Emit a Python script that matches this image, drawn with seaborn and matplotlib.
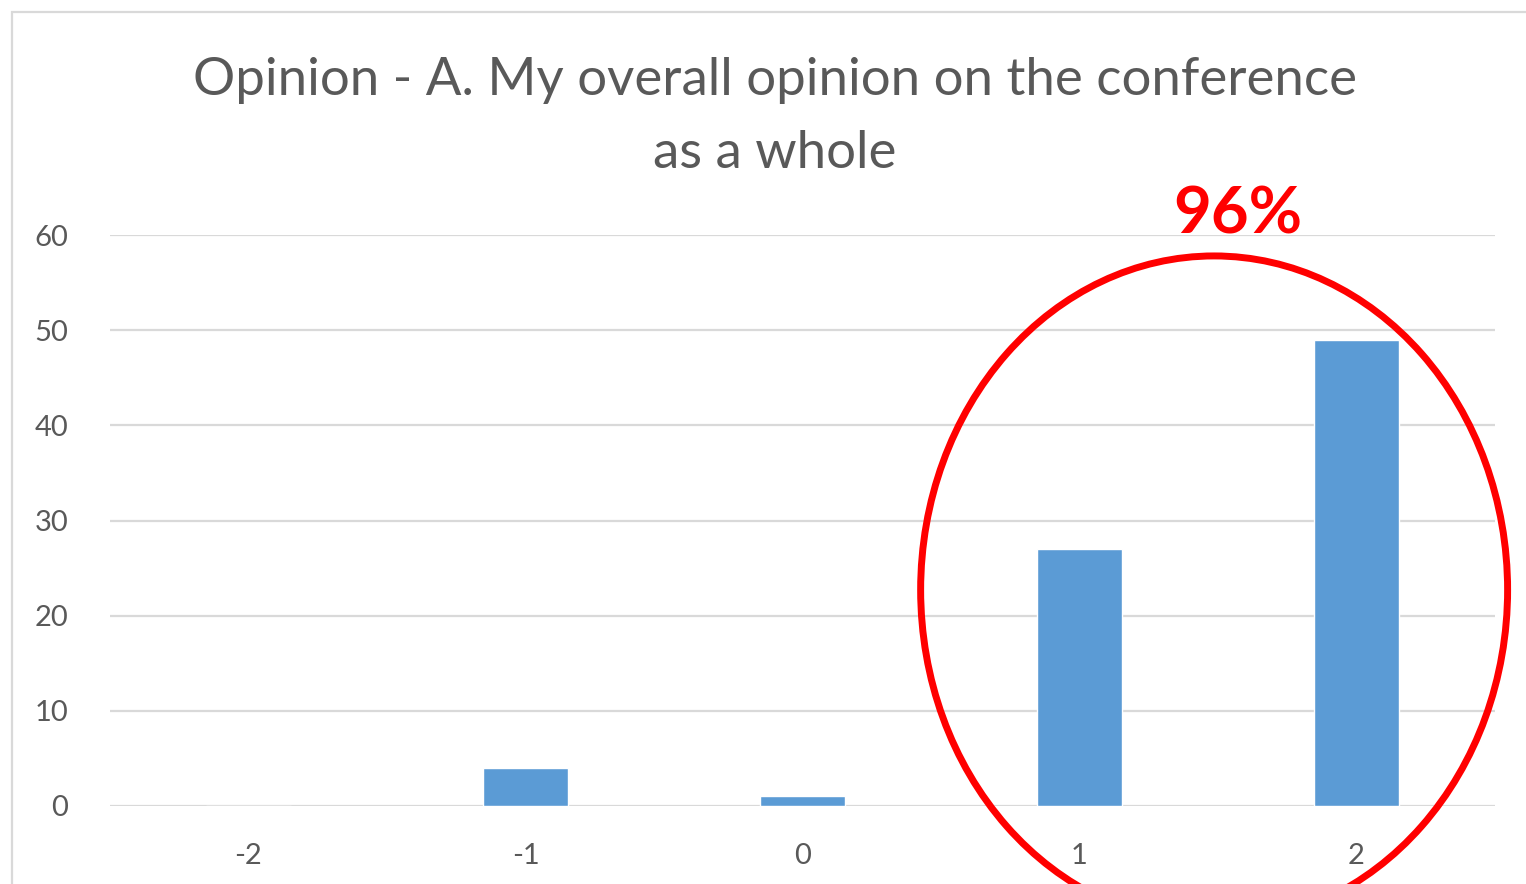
import matplotlib.pyplot as plt
import matplotlib.patches as mpatches
import seaborn as sns
import pandas as pd

# Survey answers: rating scale and number of respondents
ratings = ["-2", "-1", "0", "1", "2"]
counts = [0, 4, 1, 27, 49]
title_lines = ["Opinion - A. My overall opinion on the conference", "as a whole"]
highlight_text = "96%"

W, H = 1526, 884
sns.set_theme(style="white")
plt.rcParams['font.family'] = ['Lato', 'DejaVu Sans']

fig = plt.figure(figsize=(W / 100, H / 100), dpi=100)
ax = fig.add_axes([110 / W, 1 - 806 / H, (1495 - 110) / W, (806 - 235) / H])

df = pd.DataFrame({"rating": ratings, "count": counts})
sns.barplot(data=df, x="rating", y="count", order=ratings, color="#5B9BD5",
            saturation=1, width=0.31, ax=ax)

ax.set_xlim(-0.5, 4.5)
ax.set_ylim(0, 60)
ax.set_yticks(range(0, 61, 10))
ax.set_xlabel("")
ax.set_ylabel("")
ax.grid(axis="y", color="#D9D9D9", linewidth=1.6)
ax.set_axisbelow(True)
for s in ax.spines.values():
    s.set_visible(False)
ax.tick_params(axis="both", length=0, labelsize=21, labelcolor="#595959")
ax.tick_params(axis="y", pad=30)
ax.tick_params(axis="x", pad=27)

# chart area border (cropped on the right and bottom)
fig.patches.append(mpatches.Rectangle((12 / W, -0.1), 1.2, 1 - 12 / H + 0.1,
                                      transform=fig.transFigure, fill=False,
                                      edgecolor="#D9D9D9", linewidth=1.6))

# two-line title
for line, yc in zip(title_lines, [80, 153]):
    fig.text(775 / W, 1 - yc / H, line, ha="center", va="center",
             fontsize=38, color="#595959")

# red highlight ellipse around the positive answers
ell = mpatches.Ellipse((3.486, 22.7), 2.119, 70.2, transform=ax.transData,
                       fill=False, edgecolor="#FF0000", linewidth=5, clip_on=False)
ax.add_patch(ell)
fig.text(1238 / W, 1 - 233 / H, highlight_text, ha="center", va="baseline",
         fontsize=47, fontweight="bold", color="#FF0000")

fig.savefig("out.png", dpi=100)
